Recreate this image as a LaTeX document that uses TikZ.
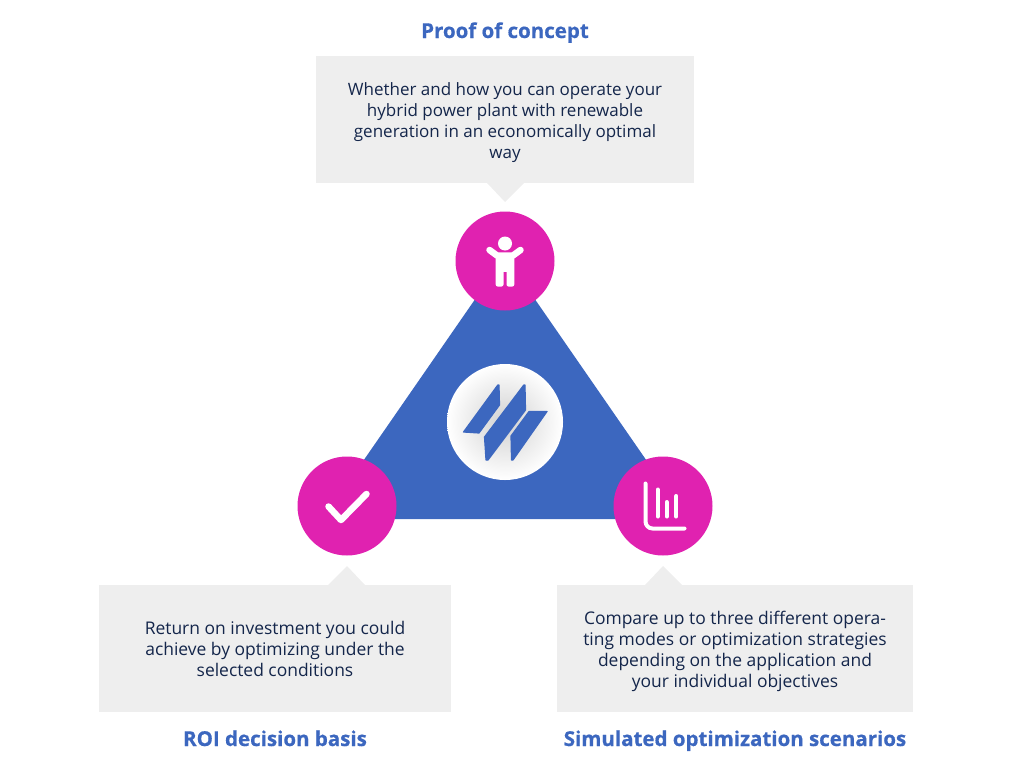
\documentclass[tikz,border=0pt]{standalone}
\usepackage{fontspec}
\setmainfont{Open Sans}
\definecolor{plantblue}{HTML}{3C67BF}
\definecolor{plantpink}{HTML}{E022B0}
\definecolor{plantgray}{HTML}{EEEEEE}
\definecolor{plantnavy}{HTML}{14264B}
\tikzset{
	infobox/.style={fill=plantgray, inner sep=0pt, minimum height=127pt},
	infotext/.style={text=plantnavy, align=center, inner sep=0pt, font=\fontsize{17.45}{21}\selectfont},
	heading/.style={anchor=base, text=plantblue, font=\fontsize{20.5}{24}\selectfont\bfseries\addfontfeature{FakeBold=0.6}, inner sep=0pt},
	badge/.style={circle, fill=plantpink, minimum size=99pt, inner sep=0pt},
	iconline/.style={draw=white, line cap=round, line join=round},
}
\begin{document}
\begin{tikzpicture}[x=1pt, y=-1pt]
	\useasboundingbox (0,0) rectangle (1024,768);

	% triangle with the logo disc
	\fill[plantblue] (505,256) -- (687,519) -- (323,519) -- cycle;
	\node[circle, minimum size=116pt, inner sep=0pt, inner color=black!18, outer color=white, shading=radial] (logo) at (505,422) {};
	\begin{scope}[fill=plantblue, draw=plantblue, line width=1.2pt, line join=round]
		\filldraw (497.8,385) -- (499,385) -- (499.5,405) -- (479,433) -- (463.5,432) -- cycle;
		\filldraw (523.8,385) -- (525,385) -- (525.5,410) -- (488,460) -- (486,460) -- (484.5,437) -- cycle;
		\filldraw (547,411.5) -- (513,460) -- (511.5,460) -- (511,436) -- (529,411.5) -- cycle;
	\end{scope}

	% boxes
	\node[infobox, minimum width=378pt] (proofbox) at (505,119.5) {};
	\node[infobox, minimum width=352pt] (roibox) at (275,648.5) {};
	\node[infobox, minimum width=356pt] (simbox) at (735,648.5) {};

	\node[infotext, yshift=-3pt, font=\fontsize{17}{21}\selectfont] (prooftext) at (proofbox) {Whether and how you can operate your\\hybrid power plant with renewable\\generation in an economically optimal\\way};
	\node[infotext] (roitext) at (roibox) {Return on investment you could\\achieve by optimizing under the\\selected conditions};
	\node[infotext, yshift=-3pt] (simtext) at (simbox) {Compare up to three different opera-\\ting modes or optimization strategies\\depending on the application and\\your individual objectives};

	\fill[plantgray] (487,183) -- (505,202) -- (524,183) -- cycle;
	\fill[plantgray] (328,585) -- (347,566) -- (365,585) -- cycle;
	\fill[plantgray] (645,585) -- (663,566) -- (682,585) -- cycle;

	% headings
	\node[heading] (proofhead) at (505,38) {Proof of concept};
	\node[heading] (roihead) at (275,746) {ROI decision basis};
	\node[heading] (simhead) at (735,746) {Simulated optimization scenarios};

	% badges
	\node[badge] (proof) at (505,261) {};
	\node[badge] (roi) at (347,506) {};
	\node[badge] (sim) at (663,506) {};

	% child icon
	\fill[white] (505,243.5) circle (7);
	\draw[iconline, line width=6.5pt] (489.5,250) -- (497,255.5) -- (513,255.5) -- (520.5,250);
	\fill[white, rounded corners=2pt] (495.7,254) rectangle (503.5,286.5);
	\fill[white, rounded corners=2pt] (506.5,254) rectangle (514.3,286.5);
	\fill[white] (495.7,254) rectangle (514.3,272);

	% check icon
	\draw[iconline, line width=6.5pt] (328.5,506.5) -- (341,520) -- (366.5,494);

	% chart icon
	\draw[iconline, line width=4pt, rounded corners=7pt] (645.5,483.5) -- (645.5,528.5) -- (684.5,528.5);
	\foreach \x/\y in {657.7/489.5, 666.7/502, 676.3/496} {
		\draw[iconline, line width=4pt] (\x,\y) -- (\x,516.5);
	}
\end{tikzpicture}
\end{document}
